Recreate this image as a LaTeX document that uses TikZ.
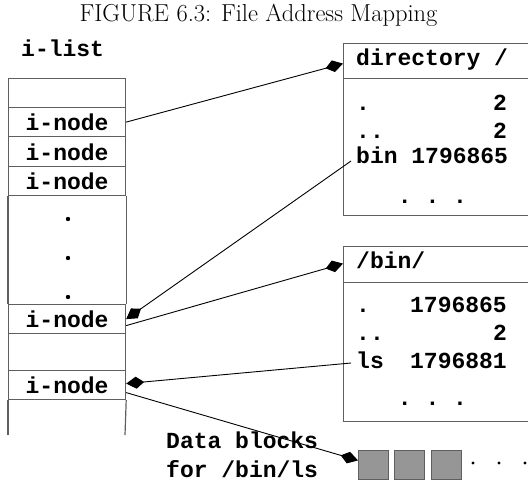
\documentclass[tikz,border=0pt]{standalone}
\usepackage{fontspec}
\setmonofont{Liberation Mono}
\usetikzlibrary{arrows.meta}
\definecolor{boxgray}{RGB}{95,95,95}
\definecolor{blockfill}{RGB}{150,150,150}
\tikzset{
  mono/.style={font=\ttfamily\bfseries\fontsize{23}{23}\selectfont, inner sep=0pt},
  cell/.style={draw=boxgray, line width=1.2pt, minimum width=117pt, inner sep=0pt, anchor=north west,
    font=\ttfamily\bfseries\fontsize{23}{23}\selectfont, text height=17pt, text depth=0pt},
  dirbox/.style={draw=boxgray, line width=1.2pt, minimum width=200pt, inner sep=0pt, anchor=north west},
  block/.style={draw=boxgray, fill=blockfill, line width=0.8pt, minimum width=30pt, minimum height=29pt, inner sep=0pt, anchor=north west},
  link/.style={draw=black, line width=0.9pt},
  tip/.style={-{Kite[length=18pt, width=12pt, inset=8pt]}},
  dot/.style={fill=black, draw=none}
}
\begin{document}
\begin{tikzpicture}[x=1pt,y=-1pt]
\useasboundingbox (0,0) rectangle (528,483);
\clip (0,0) rectangle (528,483);

% title
\node[anchor=base, inner sep=0pt, font=\fontsize{24.5}{28}\selectfont] (title) at (258.5,21) {FIGURE 6.3: File Address Mapping};

% i-list
\node[mono, anchor=base west] (ilist) at (21,56) {i-list};
\node[cell, minimum height=29pt] (c0) at (8,78) {};
\node[cell, minimum height=29pt] (r1) at (8,107) {i-node\hspace{8pt}};
\node[cell, minimum height=30pt] (r2) at (8,136) {i-node\hspace{8pt}};
\node[cell, minimum height=29pt] (r3) at (8,166) {i-node\hspace{8pt}};
\node[cell, minimum height=29pt] (r5) at (8,304) {i-node\hspace{8pt}};
\node[cell, minimum height=37pt] (c6) at (8,333) {};
\node[cell, minimum height=29pt] (r6) at (8,370) {i-node\hspace{8pt}};
\coordinate (botL) at (8,435);
\coordinate (botR) at (125,435);
\draw[boxgray, line width=1.2pt] (r3.south west) -- (r5.north west);
\draw[boxgray, line width=1.2pt] (r3.south east) -- (r5.north east);
\draw[boxgray, line width=1.2pt] (r6.south west) -- (botL);
\draw[boxgray, line width=1.2pt] (r6.south east) -- (botR);
\fill[dot] (68,219) circle (2.2pt);
\fill[dot] (68,258) circle (2.2pt);
\fill[dot] (68,297) circle (2.2pt);

% directory /
\node[dirbox, minimum height=35pt] (dirhead) at (343,43) {};
\node[dirbox, minimum height=137pt] (dirbody) at (343,78) {};
\node[mono, anchor=base west] (dirtitle) at (356,65) {directory /};
\node[mono, anchor=base west] (d1) at (356,110) {.};
\node[mono, anchor=base east] (d1n) at (507,110) {2};
\node[mono, anchor=base west] (d2) at (356,138) {..};
\node[mono, anchor=base east] (d2n) at (507,138) {2};
\node[mono, anchor=base west] (bin) at (356,163) {bin 1796865};
\node[mono, anchor=base] (ddots) at (432.5,203) {.\ .\ .};

% /bin/
\node[dirbox, minimum height=36pt] (binhead) at (343,246) {};
\node[dirbox, minimum height=139pt] (binbody) at (343,282) {};
\node[mono, anchor=base west] (bintitle) at (356,268) {/bin/};
\node[mono, anchor=base west] (b1) at (356,312) {.};
\node[mono, anchor=base east] (b1n) at (507,312) {1796865};
\node[mono, anchor=base west] (b2) at (356,340) {..};
\node[mono, anchor=base east] (b2n) at (507,340) {2};
\node[mono, anchor=base west] (ls) at (356,368) {ls};
\node[mono, anchor=base east] (lsn) at (507,368) {1796881};
\node[mono, anchor=base] (bdots) at (432.5,405) {.\ .\ .};

% data blocks
\node[mono, anchor=base west] (data1) at (166,448) {Data blocks};
\node[mono, anchor=base west] (data2) at (166,477) {for /bin/ls};
\node[block] (blk1) at (358,450) {};
\node[block] (blk2) at (394,450) {};
\node[block] (blk3) at (431,450) {};
\fill[dot] (473,463) circle (1.7pt);
\fill[dot] (499,463) circle (1.7pt);
\fill[dot] (525,463) circle (1.7pt);

% connectors
\draw[link, tip] (r1.east) -- ([yshift=-2.5pt]dirhead.west);
\draw[link, tip] ([xshift=-5pt,yshift=2pt]bin.base west) -- (r5.east);
\draw[link, tip] ([yshift=-6.5pt]r5.east) -- ([yshift=1pt]binhead.west);
\draw[link, tip] ([xshift=-5pt,yshift=5pt]ls.base west) -- ([yshift=1.5pt]r6.east);
\draw[link, tip] ([yshift=-7.5pt]r6.east) -- ([yshift=4.5pt]blk1.west);
\end{tikzpicture}
\end{document}
